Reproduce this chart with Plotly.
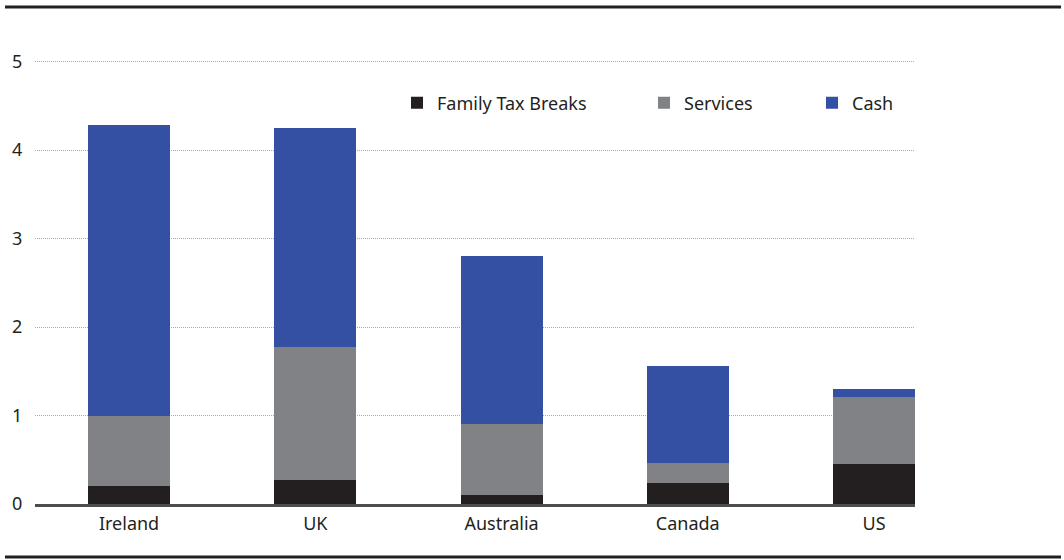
import plotly.graph_objects as go

countries = ["Ireland", "UK", "Australia", "Canada", "US"]
family_tax_breaks = [0.20, 0.27, 0.10, 0.24, 0.45]
services = [0.80, 1.50, 0.80, 0.22, 0.76]
cash = [3.29, 2.48, 1.90, 1.10, 0.09]
y_ticks = [0, 1, 2, 3, 4, 5]

FONT = "Noto Sans"
TEXT = "#231f20"
C_TAX = "#231f20"
C_SERV = "#818286"
C_CASH = "#3350a3"

x_pos = list(range(len(countries)))

W, H = 1064, 560
L, R, T, B = 35, 149, 44, 56
pw = W - L - R
ph = H - T - B

def px_x(p):
    return (p - L) / pw

def px_y(p):
    return (H - B - p) / ph

fig = go.Figure()
series = [
    ("Family Tax Breaks", family_tax_breaks, C_TAX, "legend"),
    ("Services", services, C_SERV, "legend2"),
    ("Cash", cash, C_CASH, "legend3"),
]
for name, vals, col, lg in series:
    fig.add_trace(go.Bar(
        x=x_pos, y=vals, name=name, marker=dict(color=col, line=dict(width=0)),
        width=0.44, legend=lg, showlegend=True,
    ))

def leg(xpx):
    return dict(
        orientation="h", xref="paper", yref="paper",
        x=px_x(xpx), y=px_y(103), xanchor="left", yanchor="middle",
        font=dict(family=FONT, size=18, color=TEXT), bgcolor="rgba(0,0,0,0)",
        borderwidth=0, itemclick=False, itemdoubleclick=False, visible=True,
    )

fig.update_layout(
    width=W, height=H,
    showlegend=True,
    margin=dict(l=L, r=R, t=T, b=B, pad=0, autoexpand=False),
    barmode="stack",
    plot_bgcolor="white", paper_bgcolor="white",
    font=dict(family=FONT, size=18, color=TEXT),
    legend=leg(397), legend2=leg(644), legend3=leg(812),
    xaxis=dict(
        range=[-0.505, 4.22], tickmode="array", tickvals=x_pos, ticktext=countries,
        showgrid=False, zeroline=False, showline=True, linecolor="#4d4d4f", linewidth=3,
        ticks="outside", ticklen=1, tickcolor="rgba(0,0,0,0)",
        tickfont=dict(family=FONT, size=18, color=TEXT), fixedrange=True,
    ),
    yaxis=dict(
        range=[0, 5.2], tickvals=y_ticks, showgrid=True, gridcolor="#a7a9ac",
        griddash="1px,1px", gridwidth=1, zeroline=False, showline=False,
        ticks="outside", ticklen=8, tickcolor="rgba(0,0,0,0)",
        tickfont=dict(family=FONT, size=18, color=TEXT), fixedrange=True,
    ),
    shapes=[
        dict(type="line", xref="paper", yref="paper", x0=px_x(5), x1=px_x(1061),
             y0=px_y(7), y1=px_y(7), line=dict(color=TEXT, width=3)),
        dict(type="line", xref="paper", yref="paper", x0=px_x(5), x1=px_x(1061),
             y0=px_y(557), y1=px_y(557), line=dict(color=TEXT, width=3)),
    ],
)

fig.write_html("out.html")
